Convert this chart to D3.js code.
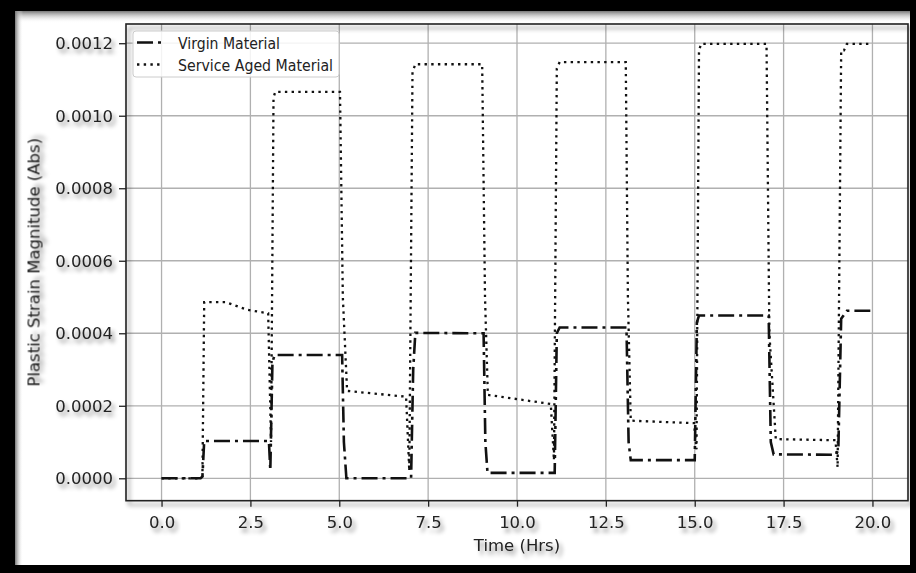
<!DOCTYPE html>
<html>
<head>
<meta charset="utf-8">
<script src="https://cdn.jsdelivr.net/npm/d3@7"></script>
<style>
  html, body { margin: 0; padding: 0; background: #000; }
  svg { display: block; }
  text { font-family: "DejaVu Sans", sans-serif; fill: #222; }
</style>
</head>
<body>
<div id="chart"></div>
<script>
// time in hours, strain in units
const virginTime = [0, 1.1, 1.15, 1.2, 3.02, 3.06, 3.12, 3.18, 5.08, 5.13, 5.2, 7.02, 7.08, 7.14, 9.06, 9.11, 9.17, 11.06, 11.12, 11.2, 13.08, 13.14, 13.2, 15.0, 15.06, 15.12, 17.08, 17.14, 17.22, 18.98, 19.04, 19.12, 19.28, 19.94];
const virginStrain = [0, 0, 0.000005, 0.000103, 0.000103, 0.000022, 0.00032, 0.00034, 0.00034, 0.0001, 0, 0, 0.0003, 0.000401, 0.0004, 0.0001, 0.000015, 0.000015, 0.0004, 0.000416, 0.000416, 0.0001, 0.00005, 0.00005, 0.00043, 0.000449, 0.000449, 0.0001, 0.000066, 0.000065, 0.00008, 0.00044, 0.000462, 0.000462];

const agedTime = [0, 1.1, 1.15, 1.2, 1.8, 2.4, 3.0, 3.08, 3.15, 3.2, 5.02, 5.1, 5.22, 6.88, 6.97, 7.06, 7.14, 9.02, 9.1, 9.18, 10.95, 11.04, 11.12, 11.2, 13.06, 13.12, 13.2, 14.98, 15.05, 15.12, 15.18, 17.02, 17.1, 17.28, 18.96, 19.02, 19.12, 19.2, 19.28, 19.92];
const agedStrain = [0, 0, 0.000005, 0.000486, 0.000486, 0.000465, 0.000455, 0.0001, 0.00105, 0.001066, 0.001066, 0.0005, 0.000241, 0.000225, 0.00002, 0.00112, 0.001142, 0.001142, 0.0005, 0.00023, 0.000205, 0.00005, 0.00113, 0.001148, 0.001148, 0.0005, 0.000159, 0.000152, 0.00008, 0.00118, 0.001198, 0.001198, 0.0004, 0.000108, 0.000105, 0.00003, 0.00118, 0.00118, 0.001198, 0.001198];

const xTicks = [0, 2.5, 5, 7.5, 10, 12.5, 15, 17.5, 20];
const yTicks = [0, 0.0002, 0.0004, 0.0006, 0.0008, 0.001, 0.0012];
const seriesNames = ["Virgin Material", "Service Aged Material"];

const width = 916, height = 573;
const plotLeft = 126, plotRight = 908, plotTop = 24, plotBottom = 500.7;

const svg = d3.select("#chart").append("svg")
    .attr("width", width)
    .attr("height", height);

const defs = svg.append("defs");
const shadow = defs.append("filter").attr("id", "shadow")
    .attr("x", "-20%").attr("y", "-20%").attr("width", "140%").attr("height", "160%");
shadow.append("feDropShadow")
    .attr("dx", 3).attr("dy", 4).attr("stdDeviation", 2)
    .attr("flood-color", "#000").attr("flood-opacity", 0.45);

const topGrad = defs.append("linearGradient").attr("id", "topGrad")
    .attr("x1", 0).attr("y1", 0).attr("x2", 0).attr("y2", 1);
topGrad.append("stop").attr("offset", "0%").attr("stop-color", "#777");
topGrad.append("stop").attr("offset", "100%").attr("stop-color", "#fff").attr("stop-opacity", 0);
const leftGrad = defs.append("linearGradient").attr("id", "leftGrad")
    .attr("x1", 0).attr("y1", 0).attr("x2", 1).attr("y2", 0);
leftGrad.append("stop").attr("offset", "0%").attr("stop-color", "#777");
leftGrad.append("stop").attr("offset", "100%").attr("stop-color", "#fff").attr("stop-opacity", 0);

// black frame around the picture
svg.append("rect").attr("width", width).attr("height", height).attr("fill", "#000");
svg.append("rect").attr("x", 15).attr("y", 11).attr("width", 895).attr("height", 554).attr("fill", "#fff");
svg.append("rect").attr("x", 15).attr("y", 11).attr("width", 895).attr("height", 12).attr("fill", "url(#topGrad)");
svg.append("rect").attr("x", 15).attr("y", 11).attr("width", 8).attr("height", 554).attr("fill", "url(#leftGrad)");

const x = d3.scaleLinear().domain([-1, 21]).range([plotLeft, plotRight]);
const y = d3.scaleLinear().domain([-0.0000618, 0.001253]).range([plotBottom, plotTop]);

// grid
const grid = svg.append("g").attr("stroke", "#b0b0b0").attr("stroke-width", 1.3);
grid.selectAll(".gx").data(xTicks).join("line")
    .attr("x1", d => x(d)).attr("x2", d => x(d))
    .attr("y1", plotTop).attr("y2", plotBottom);
grid.selectAll(".gy").data(yTicks).join("line")
    .attr("y1", d => y(d)).attr("y2", d => y(d))
    .attr("x1", plotLeft).attr("x2", plotRight);

// series
const virgin = virginTime.map((t, i) => [t, virginStrain[i]]);
const aged = agedTime.map((t, i) => [t, agedStrain[i]]);
const line = d3.line().x(d => x(d[0])).y(d => y(d[1]));

svg.append("path").datum(aged)
    .attr("d", line)
    .attr("fill", "none")
    .attr("stroke", "#111")
    .attr("stroke-width", 2.3)
    .attr("stroke-dasharray", "2.4,4.3");

svg.append("path").datum(virgin)
    .attr("d", line)
    .attr("fill", "none")
    .attr("stroke", "#111")
    .attr("stroke-width", 2.6)
    .attr("stroke-dasharray", "16,5,3,5");

// axes frame with shadow
svg.append("rect")
    .attr("x", plotLeft).attr("y", plotTop)
    .attr("width", plotRight - plotLeft).attr("height", plotBottom - plotTop)
    .attr("fill", "none").attr("stroke", "#222").attr("stroke-width", 1.6)
    .attr("filter", "url(#shadow)");

const xAxis = d3.axisBottom(x).tickValues(xTicks).tickFormat(d3.format(".1f")).tickSize(6).tickPadding(6);
const yAxis = d3.axisLeft(y).tickValues(yTicks).tickFormat(d3.format(".4f")).tickSize(7).tickPadding(6);

const gx = svg.append("g").attr("transform", `translate(0,${plotBottom})`).call(xAxis);
const gy = svg.append("g").attr("transform", `translate(${plotLeft},0)`).call(yAxis);
[gx, gy].forEach(g => {
    g.select(".domain").remove();
    g.selectAll(".tick line").attr("stroke", "#222").attr("stroke-width", 1.3);
    g.selectAll(".tick text")
        .attr("fill", "#222")
        .style("font-size", "16.5px")
        .style("font-family", "DejaVu Sans, sans-serif")
        .attr("filter", "url(#shadow)");
});
gx.selectAll(".tick text").attr("dy", "0.95em");

svg.append("text")
    .attr("x", (plotLeft + plotRight) / 2).attr("y", 551)
    .attr("text-anchor", "middle")
    .style("font-size", "16.5px")
    .attr("filter", "url(#shadow)")
    .text("Time (Hrs)");

svg.append("text")
    .attr("transform", `translate(39.5,${(plotTop + plotBottom) / 2}) rotate(-90)`)
    .attr("text-anchor", "middle")
    .style("font-size", "16.5px")
    .attr("filter", "url(#shadow)")
    .text("Plastic Strain Magnitude (Abs)");

// legend
const legend = svg.append("g").attr("transform", "translate(133,31)");
legend.append("rect")
    .attr("width", 206).attr("height", 46).attr("rx", 3)
    .attr("fill", "#fff").attr("fill-opacity", 0.85)
    .attr("stroke", "#ccc").attr("stroke-width", 1);
const legendStyles = [
    {dash: "16,5,3,5", w: 2.6, len: 102},
    {dash: "2.4,4.3", w: 2.3, len: 155}
];
seriesNames.forEach((name, i) => {
    const rowY = 11.5 + i * 22;
    legend.append("line")
        .attr("x1", 4).attr("x2", 30)
        .attr("y1", rowY).attr("y2", rowY)
        .attr("stroke", "#111")
        .attr("stroke-width", legendStyles[i].w)
        .attr("stroke-dasharray", legendStyles[i].dash);
    legend.append("text")
        .attr("x", 45).attr("y", rowY + 6)
        .style("font-size", "16px")
        .attr("textLength", legendStyles[i].len)
        .attr("lengthAdjust", "spacingAndGlyphs")
        .text(name);
});
</script>
</body>
</html>
